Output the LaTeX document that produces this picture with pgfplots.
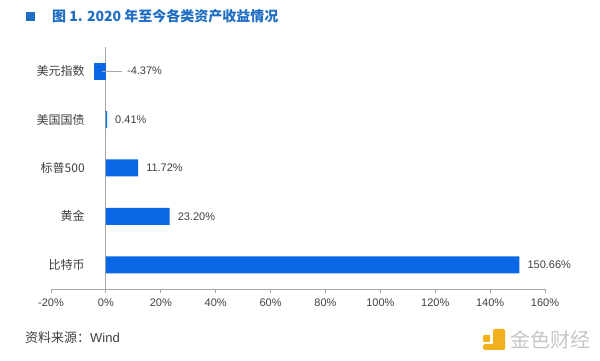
\documentclass[border=0pt]{standalone}
\usepackage{pgfplots}
\pgfplotsset{compat=1.18}
\usepackage{fontspec}
\setmainfont{Liberation Sans}
\newfontfamily\cjk{Noto Sans CJK SC}
\definecolor{barblue}{HTML}{0A68E6}
\definecolor{titleblue}{HTML}{1F6EC4}
\definecolor{axisgray}{HTML}{A6A6A6}
\definecolor{txt}{HTML}{404040}
\definecolor{logoy}{HTML}{F2B01E}
\begin{document}
\begin{tikzpicture}[x=1pt,y=1pt]
\useasboundingbox (0,0) rectangle (600,361);
\fill[white] (0,0) rectangle (600,361);
% title
\fill[titleblue] (26,340) rectangle (35,349);
\node[anchor=west, inner sep=0pt, text=titleblue] at (52,344.5) {\cjk\bfseries\fontsize{14}{16}\selectfont 图 1. 2020 年至今各类资产收益情况};
\begin{axis}[
  at={(51pt,72pt)}, anchor=south west,
  scale only axis, width=494pt, height=242pt,
  xmin=-20, xmax=160, ymin=-0.5, ymax=4.5,
  axis x line=bottom, axis y line=middle,
  axis line style={draw=axisgray, line width=0.8pt, -},
  hide obscured x ticks=false,
  xtick={-20,0,20,40,60,80,100,120,140,160},
  xticklabel={\pgfmathprintnumber{\tick}\%},
  /pgf/number format/assume math mode=true,
  x tick label style={font=\fontsize{11}{12}\selectfont, text=txt, yshift=-2pt},
  xtick style={draw=axisgray, line width=0.8pt},
  tick align=outside, major tick length=4pt,
  ytick={0,1,2,3,4},
  yticklabels={比特币,黄金,标普500,美国国债,美元指数},
  y tick label style={font=\cjk\fontsize{12}{14}\selectfont, text=txt, anchor=east, inner sep=0pt, xshift=-17pt},
  ytick style={draw=none},
  point meta=x,
  nodes near coords={\pgfmathprintnumber[fixed,fixed zerofill,precision=2]{\pgfplotspointmeta}\%},
  every node near coord/.append style={font=\fontsize{11}{12}\selectfont, text=txt, anchor=west, inner sep=0pt},
  clip=false,
]
\addplot[xbar, fill=barblue, draw=none, bar width=17pt, bar shift=0pt,
  every node near coord/.append style={xshift=8pt}]
  coordinates {(150.66,0) (23.20,1) (11.72,2) (0.41,3)};
\addplot[xbar, fill=barblue, draw=none, bar width=17pt, bar shift=0pt,
  every node near coord/.append style={xshift=33pt}]
  coordinates {(-4.37,4)};
\draw[axisgray, line width=0.8pt] (axis cs:-1.5,4) -- (axis cs:5.8,4);
\end{axis}
% source
\node[anchor=west, inner sep=0pt, text=txt] at (25,23) {\fontsize{13}{15}\selectfont{\cjk 资料来源：}Wind};
% watermark
\fill[logoy, rounded corners=1pt] (483,19) rectangle (490,26);
\fill[logoy, rounded corners=1.5pt] (493,11) rectangle (505,32);
\fill[logoy, rounded corners=1.5pt] (483,11) rectangle (505,17);
\node[anchor=west, inner sep=0pt, text=black!22] at (510,21) {\cjk\fontsize{20}{22}\selectfont 金色财经};
\end{tikzpicture}
\end{document}
